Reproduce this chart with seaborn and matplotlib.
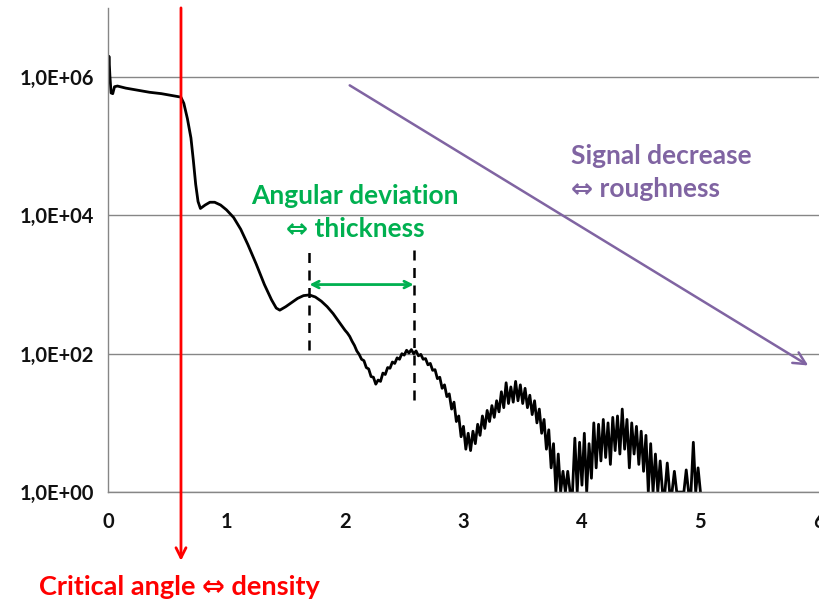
import numpy as np
import matplotlib
matplotlib.use("Agg")
import matplotlib.pyplot as plt
import seaborn as sns

# ---- data (angle, log10 intensity) ----
angle_smooth = [0.000, 0.008, 0.016, 0.026, 0.040, 0.055, 0.080, 0.150, 0.250, 0.350,
                0.450, 0.550, 0.615, 0.640, 0.670, 0.700, 0.720, 0.740, 0.760, 0.780,
                0.820, 0.860, 0.900, 0.950, 1.000, 1.060, 1.120, 1.180, 1.250, 1.320,
                1.380, 1.420, 1.450, 1.500, 1.550, 1.600, 1.650, 1.700, 1.750, 1.800,
                1.850, 1.900, 1.950]
logi_smooth = [5.95, 6.30, 6.02, 5.77, 5.76, 5.86, 5.87, 5.84, 5.81, 5.78,
               5.76, 5.73, 5.71, 5.62, 5.40, 5.12, 4.80, 4.45, 4.20, 4.10,
               4.15, 4.19, 4.19, 4.15, 4.08, 3.97, 3.80, 3.58, 3.30, 3.00,
               2.78, 2.66, 2.63, 2.68, 2.74, 2.80, 2.84, 2.85, 2.82, 2.76,
               2.68, 2.58, 2.46]

angle_noisy = [2.00, 2.02, 2.04, 2.06, 2.08, 2.10, 2.12, 2.14, 2.16, 2.18,
               2.20, 2.22, 2.24, 2.26, 2.28, 2.30, 2.32, 2.34, 2.36, 2.38,
               2.40, 2.42, 2.44, 2.46, 2.48, 2.50, 2.52, 2.54, 2.56, 2.58,
               2.60, 2.62, 2.64, 2.66, 2.68, 2.70, 2.72, 2.74, 2.76, 2.78,
               2.80, 2.82, 2.84, 2.86, 2.88, 2.90, 2.92, 2.94, 2.96, 2.98,
               3.00, 3.02, 3.04, 3.06, 3.08, 3.10, 3.12, 3.14, 3.16, 3.18,
               3.20, 3.22, 3.24, 3.26, 3.28, 3.30, 3.32, 3.34, 3.36, 3.38,
               3.40, 3.42, 3.44, 3.46, 3.48, 3.50, 3.52, 3.54, 3.56, 3.58,
               3.60, 3.62, 3.64, 3.66, 3.68, 3.70, 3.72, 3.74, 3.76, 3.78,
               3.80, 3.82, 3.84, 3.86, 3.88, 3.90, 3.92, 3.94, 3.96, 3.98,
               4.00, 4.02, 4.04, 4.06, 4.08, 4.10, 4.12, 4.14, 4.16, 4.18,
               4.20, 4.22, 4.24, 4.26, 4.28, 4.30, 4.32, 4.34, 4.36, 4.38,
               4.40, 4.42, 4.44, 4.46, 4.48, 4.50, 4.52, 4.54, 4.56, 4.58,
               4.60, 4.62, 4.64, 4.66, 4.68, 4.70, 4.72, 4.74, 4.76, 4.78,
               4.80, 4.82, 4.84, 4.86, 4.88, 4.90, 4.92, 4.94, 4.96, 4.98,
               5.00]
logi_noisy = [2.34, 2.30, 2.25, 2.18, 2.12, 2.04, 1.99, 1.92, 1.90, 1.80,
              1.78, 1.67, 1.66, 1.56, 1.62, 1.60, 1.72, 1.70, 1.80, 1.79,
              1.88, 1.86, 1.94, 1.92, 2.00, 1.98, 2.05, 2.01, 2.06, 2.00,
              2.04, 1.97, 1.99, 1.92, 1.93, 1.84, 1.86, 1.76, 1.77, 1.64,
              1.66, 1.50, 1.55, 1.38, 1.42, 1.20, 1.30, 1.02, 1.10, 0.80,
              0.95, 0.62, 0.85, 0.60, 0.88, 0.70, 0.98, 0.82, 1.10, 0.92,
              1.18, 1.02, 1.25, 1.08, 1.32, 1.16, 1.45, 1.22, 1.58, 1.28,
              1.52, 1.30, 1.60, 1.32, 1.55, 1.28, 1.50, 1.22, 1.40, 1.12,
              1.32, 1.00, 1.20, 0.85, 1.05, 0.62, 0.90, 0.35, 0.70, 0.00,
              0.55, 0.00, 0.30, 0.00, 0.30, 0.00, 0.00, 0.78, 0.00, 0.72,
              0.10, 0.85, 0.00, 0.70, 0.20, 1.00, 0.35, 0.98, 0.45, 1.05,
              0.50, 1.00, 0.40, 1.08, 0.60, 1.10, 0.55, 1.20, 0.62, 1.05,
              0.35, 1.00, 0.55, 0.95, 0.40, 0.88, 0.30, 0.82, 0.00, 0.70,
              0.00, 0.55, 0.00, 0.45, 0.00, 0.00, 0.42, 0.00, 0.00, 0.30,
              0.00, 0.00, 0.00, 0.00, 0.32, 0.00, 0.00, 0.72, 0.00, 0.35,
              0.00]

ytick_values = [1e0, 1e2, 1e4, 1e6]
ytick_labels = ["1,0E+00", "1,0E+02", "1,0E+04", "1,0E+06"]
xtick_values = [0, 1, 2, 3, 4, 5, 6]

critical_angle = 0.616
fringe_peaks = [1.70, 2.58]

angle = np.array(angle_smooth + angle_noisy)
intensity = 10 ** np.array(logi_smooth + logi_noisy)

# ---- plot ----
sns.set_style("white")
plt.rcParams["font.family"] = ["Lato", "DejaVu Sans"]

fig = plt.figure(figsize=(8.2, 6.06), dpi=100)
ax = fig.add_axes([0.1317, 0.188, 0.867, 0.799])

sns.lineplot(x=angle, y=intensity, ax=ax, color="black", linewidth=2,
             estimator=None, sort=False)

ax.set_yscale("log")
ax.set_xlim(0, 6)
ax.set_ylim(1, 1e7)
ax.set_yticks(ytick_values)
ax.set_yticklabels(ytick_labels)
ax.yaxis.set_minor_locator(matplotlib.ticker.NullLocator())
ax.set_xticks(xtick_values)
ax.set_xticklabels([str(v) for v in xtick_values])
ax.set_xlabel("")
ax.set_ylabel("")

gray = "#868686"
ax.grid(axis="y", color=gray, linewidth=1)
ax.grid(axis="x", visible=False)
for side in ["top", "right"]:
    ax.spines[side].set_visible(False)
for side in ["left", "bottom"]:
    ax.spines[side].set_color(gray)
    ax.spines[side].set_linewidth(1)
ax.tick_params(axis="both", direction="out", length=5, color=gray, width=1,
               labelsize=14.5, pad=5)
ax.tick_params(axis="x", pad=9)
for lab in ax.get_xticklabels() + ax.get_yticklabels():
    lab.set_fontweight("bold")
    lab.set_color("#111111")

# critical angle (red arrow going below the axis)
ax.annotate("", xy=(critical_angle, -0.142), xycoords=("data", "axes fraction"),
            xytext=(critical_angle, 1.0), textcoords=("data", "axes fraction"),
            arrowprops=dict(arrowstyle="->", color="red", lw=2, mutation_scale=18,
                            shrinkA=0, shrinkB=0),
            annotation_clip=False)
fig.text(0.219, 0.031, "Critical angle \u21d4 density", color="red",
         fontsize=19.5, fontweight="bold", ha="center", va="center")

# fringe spacing
green = "#00B050"
ax.vlines(fringe_peaks[0], 10 ** 2.06, 10 ** 3.55, colors="black",
          linestyles=(0, (4, 3)), linewidth=1.8)
ax.vlines(fringe_peaks[1], 10 ** 1.33, 10 ** 3.55, colors="black",
          linestyles=(0, (4, 3)), linewidth=1.8)
ax.annotate("", xy=(fringe_peaks[1], 1e3), xytext=(fringe_peaks[0], 1e3),
            arrowprops=dict(arrowstyle="<->", color=green, lw=2, mutation_scale=12,
                            shrinkA=0, shrinkB=0))
ax.text(2.08, 10 ** 4.28, "Angular deviation", color=green, fontsize=19,
        fontweight="bold", ha="center", va="center")
ax.text(2.09, 10 ** 3.80, "\u21d4 thickness", color=green, fontsize=19,
        fontweight="bold", ha="center", va="center")

# roughness trend
purple = "#8064A2"
ax.annotate("", xy=(5.91, 10 ** 1.83), xytext=(2.04, 10 ** 5.88),
            arrowprops=dict(arrowstyle="->", color=purple, lw=1.8, mutation_scale=22,
                            shrinkA=0, shrinkB=0))
ax.text(3.91, 10 ** 4.86, "Signal decrease", color=purple, fontsize=19,
        fontweight="bold", ha="left", va="center")
ax.text(3.91, 10 ** 4.38, "\u21d4 roughness", color=purple, fontsize=19,
        fontweight="bold", ha="left", va="center")

fig.savefig("out.png", dpi=100)
